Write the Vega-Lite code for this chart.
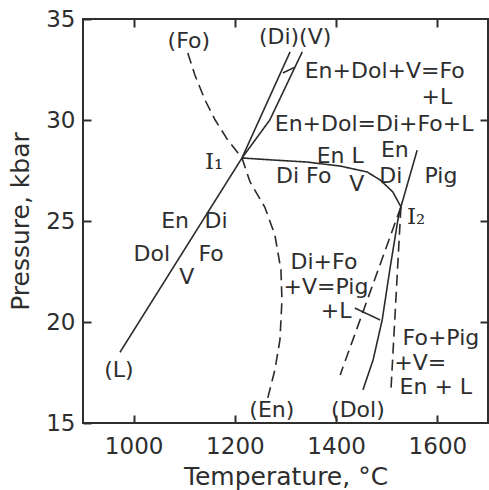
{
  "$schema": "https://vega.github.io/schema/vega-lite/v6.json",
  "width": 405,
  "height": 404,
  "autosize": {"type": "none"},
  "padding": {"left": 83, "top": 19, "right": 1, "bottom": 67},
  "config": {
    "view": {"stroke": "#2e2e2e", "strokeWidth": 2},
    "font": "DejaVu Sans",
    "axis": {
      "domain": false,
      "grid": false,
      "tickColor": "#2e2e2e",
      "tickWidth": 2,
      "tickSize": -8,
      "labelColor": "#2e2e2e",
      "labelFont": "DejaVu Sans",
      "labelFontSize": 23,
      "titleColor": "#2e2e2e",
      "titleFont": "DejaVu Sans",
      "titleFontSize": 25,
      "titleFontWeight": "normal"
    }
  },
  "datasets": {
    "lines": [
      {"id": "L", "style": "solid", "o": 1, "t": 973, "p": 18.5},
      {"id": "L", "style": "solid", "o": 2, "t": 1214, "p": 28.12},
      {"id": "Di", "style": "solid", "o": 1, "t": 1214, "p": 28.12},
      {"id": "Di", "style": "solid", "o": 2, "t": 1309, "p": 33.37},
      {"id": "V", "style": "solid", "o": 1, "t": 1214, "p": 28.12},
      {"id": "V", "style": "solid", "o": 2, "t": 1269, "p": 30.0},
      {"id": "V", "style": "solid", "o": 3, "t": 1333, "p": 33.37},
      {"id": "FoEn", "style": "dashed", "o": 1, "t": 1107, "p": 33.32},
      {"id": "FoEn", "style": "dashed", "o": 2, "t": 1121, "p": 32.23},
      {"id": "FoEn", "style": "dashed", "o": 3, "t": 1141, "p": 30.99},
      {"id": "FoEn", "style": "dashed", "o": 4, "t": 1161, "p": 30.0},
      {"id": "FoEn", "style": "dashed", "o": 5, "t": 1186, "p": 29.01},
      {"id": "FoEn", "style": "dashed", "o": 6, "t": 1214, "p": 28.12},
      {"id": "FoEn", "style": "dashed", "o": 7, "t": 1230, "p": 26.93},
      {"id": "FoEn", "style": "dashed", "o": 8, "t": 1259, "p": 25.69},
      {"id": "FoEn", "style": "dashed", "o": 9, "t": 1279, "p": 24.31},
      {"id": "FoEn", "style": "dashed", "o": 10, "t": 1291, "p": 22.58},
      {"id": "FoEn", "style": "dashed", "o": 11, "t": 1293, "p": 21.09},
      {"id": "FoEn", "style": "dashed", "o": 12, "t": 1289, "p": 19.11},
      {"id": "FoEn", "style": "dashed", "o": 13, "t": 1279, "p": 17.63},
      {"id": "FoEn", "style": "dashed", "o": 14, "t": 1265, "p": 16.24},
      {"id": "I1I2", "style": "solid", "o": 1, "t": 1214, "p": 28.12},
      {"id": "I1I2", "style": "solid", "o": 2, "t": 1275, "p": 28.02},
      {"id": "I1I2", "style": "solid", "o": 3, "t": 1342, "p": 27.92},
      {"id": "I1I2", "style": "solid", "o": 4, "t": 1408, "p": 27.72},
      {"id": "I1I2", "style": "solid", "o": 5, "t": 1461, "p": 27.43},
      {"id": "I1I2", "style": "solid", "o": 6, "t": 1487, "p": 27.03},
      {"id": "I1I2", "style": "solid", "o": 7, "t": 1512, "p": 26.44},
      {"id": "I1I2", "style": "solid", "o": 8, "t": 1528, "p": 25.7},
      {"id": "Pig", "style": "solid", "o": 1, "t": 1528, "p": 25.7},
      {"id": "Pig", "style": "solid", "o": 2, "t": 1560, "p": 28.5},
      {"id": "DiFoV", "style": "dashed", "o": 1, "t": 1528, "p": 25.7},
      {"id": "DiFoV", "style": "dashed", "o": 2, "t": 1408, "p": 17.38},
      {"id": "Dol", "style": "solid", "o": 1, "t": 1528, "p": 25.7},
      {"id": "Dol", "style": "solid", "o": 2, "t": 1522, "p": 25.05},
      {"id": "Dol", "style": "solid", "o": 3, "t": 1506, "p": 22.58},
      {"id": "Dol", "style": "solid", "o": 4, "t": 1491, "p": 20.1},
      {"id": "Dol", "style": "solid", "o": 5, "t": 1473, "p": 18.12},
      {"id": "Dol", "style": "solid", "o": 6, "t": 1453, "p": 16.64},
      {"id": "FoPig", "style": "dashed", "o": 1, "t": 1528, "p": 25.7},
      {"id": "FoPig", "style": "dashed", "o": 2, "t": 1508, "p": 16.49},
      {"id": "lead1", "style": "solid", "o": 1, "t": 1437, "p": 20.69},
      {"id": "lead1", "style": "solid", "o": 2, "t": 1487, "p": 20.1},
      {"id": "lead2", "style": "solid", "o": 1, "t": 1295, "p": 32.33},
      {"id": "lead2", "style": "solid", "o": 2, "t": 1317, "p": 32.6}
    ],
    "labels": [
      {"label": "(Fo)", "t": 1109, "p": 33.91},
      {"label": "(Di)(V)", "t": 1319, "p": 34.11},
      {"label": "En+Dol+V=Fo", "t": 1496, "p": 32.45},
      {"label": "+L", "t": 1599, "p": 31.15},
      {"label": "En+Dol=Di+Fo+L", "t": 1475, "p": 29.8},
      {"label": "En L", "t": 1408, "p": 28.22},
      {"label": "Di Fo", "t": 1336, "p": 27.23},
      {"label": "V", "t": 1441, "p": 26.83},
      {"label": "En", "t": 1516, "p": 28.5},
      {"label": "Di", "t": 1508, "p": 27.23},
      {"label": "Pig", "t": 1607, "p": 27.23},
      {"label": "En", "t": 1082, "p": 25.0},
      {"label": "Di", "t": 1163, "p": 25.0},
      {"label": "Dol", "t": 1036, "p": 23.37},
      {"label": "Fo", "t": 1153, "p": 23.37},
      {"label": "V", "t": 1105, "p": 22.23},
      {"label": "(L)", "t": 971, "p": 17.63},
      {"label": "Di+Fo", "t": 1376, "p": 22.97},
      {"label": "+V=Pig", "t": 1380, "p": 21.73},
      {"label": "+L", "t": 1400, "p": 20.55},
      {"label": "(En)", "t": 1273, "p": 15.65},
      {"label": "(Dol)", "t": 1443, "p": 15.65},
      {"label": "Fo+Pig", "t": 1607, "p": 19.21},
      {"label": "+V=", "t": 1566, "p": 17.97},
      {"label": "En + L", "t": 1597, "p": 16.78}
    ],
    "points": [
      {"label": "I₁", "t": 1159, "p": 27.92},
      {"label": "I₂", "t": 1558, "p": 25.2}
    ]
  },
  "layer": [
    {
      "data": {"name": "lines"},
      "mark": {"type": "line", "strokeWidth": 1.6, "color": "#2b2b2b"},
      "encoding": {
        "x": {
          "field": "t", "type": "quantitative",
          "scale": {"domain": [900, 1700], "nice": false, "zero": false},
          "axis": {"orient": "bottom", "values": [1000, 1200, 1400, 1600], "format": "d", "title": "Temperature, °C", "labelPadding": 20, "titlePadding": 6}
        },
        "y": {
          "field": "p", "type": "quantitative",
          "scale": {"domain": [15, 35], "nice": false, "zero": false},
          "axis": {"orient": "left", "values": [15, 20, 25, 30, 35], "format": "d", "title": "Pressure, kbar", "labelPadding": 16, "titlePadding": 12}
        },
        "detail": {"field": "id", "type": "nominal"},
        "order": {"field": "o", "type": "quantitative"},
        "strokeDash": {
          "field": "style", "type": "nominal",
          "scale": {"domain": ["solid", "dashed"], "range": [[1, 0], [11, 6]]},
          "legend": null
        }
      }
    },
    {
      "data": {"name": "labels"},
      "mark": {"type": "text", "fontSize": 22, "font": "DejaVu Sans", "color": "#2e2e2e", "align": "center", "baseline": "middle"},
      "encoding": {
        "x": {
          "field": "t", "type": "quantitative",
          "axis": {"orient": "top", "values": [1000, 1200, 1400, 1600], "labels": false, "title": null}
        },
        "y": {
          "field": "p", "type": "quantitative",
          "axis": {"orient": "right", "values": [20, 25, 30], "labels": false, "title": null}
        },
        "text": {"field": "label", "type": "nominal"}
      }
    },
    {
      "data": {"name": "points"},
      "mark": {"type": "text", "fontSize": 23, "font": "DejaVu Serif", "color": "#2e2e2e", "align": "center", "baseline": "middle"},
      "encoding": {
        "x": {"field": "t", "type": "quantitative", "axis": null},
        "y": {"field": "p", "type": "quantitative", "axis": null},
        "text": {"field": "label", "type": "nominal"}
      }
    }
  ],
  "resolve": {"axis": {"x": "independent", "y": "independent"}}
}
